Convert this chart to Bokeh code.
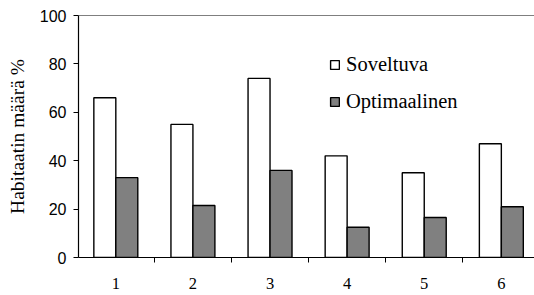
from bokeh.plotting import figure
from bokeh.models import ColumnDataSource, FixedTicker, Span, Range1d, Legend, LegendItem
from bokeh.transform import dodge
from bokeh.embed import file_html
from bokeh.resources import INLINE

categories = [1, 2, 3, 4, 5, 6]
tick_labels = ["1", "2", "3", "4", "5", "6"]
soveltuva = [66, 55, 74, 42, 35, 47]
optimaalinen = [33, 21.5, 36, 12.5, 16.5, 21]

SERIF = "'Liberation Serif', 'Times New Roman', serif"

src = ColumnDataSource(dict(x=categories, s=soveltuva, o=optimaalinen))

p = figure(width=534, height=295, output_backend="svg", toolbar_location=None,
           x_range=Range1d(0.516, 6.43), y_range=Range1d(0, 100),
           min_border_left=78, min_border_right=0, min_border_top=15, min_border_bottom=38)
p.outline_line_color = None
p.grid.grid_line_color = None
p.background_fill_color = "white"

bw = 0.285
r1 = p.vbar(x=dodge("x", -bw / 2), top="s", width=bw, source=src,
            fill_color="white", line_color="black", line_width=1.4)
r2 = p.vbar(x=dodge("x", bw / 2), top="o", width=bw, source=src,
            fill_color="#808080", line_color="black", line_width=1.4)

p.add_layout(Span(location=100, dimension="width", line_color="black", line_width=1.2))

# x axis
p.xaxis.ticker = FixedTicker(ticks=categories, minor_ticks=[0.5, 1.5, 2.5, 3.5, 4.5, 5.5, 6.5])
p.xaxis.major_label_overrides = {c: l for c, l in zip(categories, tick_labels)}
p.xaxis.major_tick_out = 0
p.xaxis.major_tick_in = 0
p.xaxis.minor_tick_out = 5
p.xaxis.minor_tick_in = 0
p.xaxis.minor_tick_line_color = "black"
p.xaxis.axis_line_color = "black"
p.xaxis.axis_line_width = 1.2
p.xaxis.major_label_text_font = SERIF
p.xaxis.major_label_text_font_size = "16.5px"
p.xaxis.major_label_text_color = "black"
p.xaxis.major_label_standoff = 15

# y axis
p.yaxis.ticker = FixedTicker(ticks=[0, 20, 40, 60, 80, 100], minor_ticks=[])
p.yaxis.major_tick_out = 5
p.yaxis.major_tick_in = 0
p.yaxis.major_tick_line_color = "black"
p.yaxis.axis_line_color = "black"
p.yaxis.axis_line_width = 1.2
p.yaxis.major_label_text_font = "'Liberation Sans', Arial, sans-serif"
p.yaxis.major_label_text_font_size = "16px"
p.yaxis.major_label_text_color = "black"
p.yaxis.major_label_standoff = 7
p.yaxis.axis_label = "Habitaatin määrä %"
p.yaxis.axis_label_text_font = SERIF
p.yaxis.axis_label_text_font_size = "19.5px"
p.yaxis.axis_label_text_font_style = "normal"
p.yaxis.axis_label_text_color = "black"
p.yaxis.axis_label_standoff = 9

legend = Legend(items=[LegendItem(label="Soveltuva", renderers=[r1]),
                       LegendItem(label="Optimaalinen", renderers=[r2])],
                location=(251, 144))
legend.border_line_color = None
legend.background_fill_alpha = 0
legend.padding = 0
legend.margin = 0
legend.spacing = 14
legend.glyph_width = 11
legend.glyph_height = 11
legend.label_standoff = 6
legend.label_text_font = SERIF
legend.label_text_font_size = "20.5px"
legend.label_text_color = "black"
legend.label_height = 22
p.add_layout(legend)

open("out.html", "w").write(file_html(p, INLINE))
